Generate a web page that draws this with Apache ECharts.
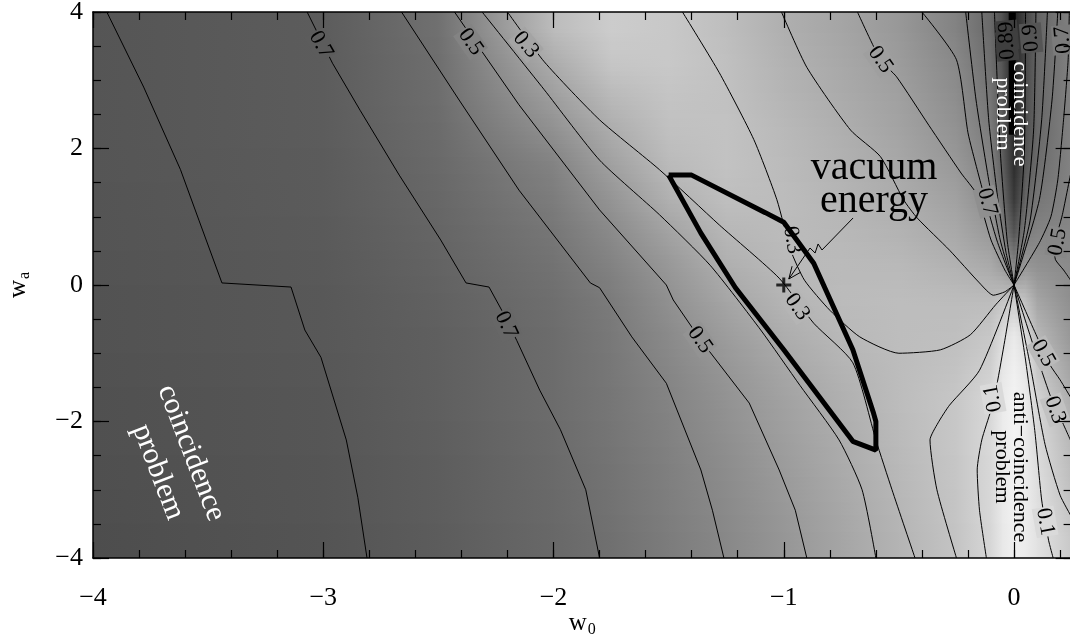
<!DOCTYPE html>
<html><head><meta charset="utf-8">
<script src="https://cdn.jsdelivr.net/npm/echarts@6/dist/echarts.min.js"></script>
<style>html,body{margin:0;padding:0;background:#fff}#c{width:1070px;height:637px}</style>
</head><body><div id="c"></div>
<script>
// ---------- DATA ----------
const xTickLabels = [-4, -3, -2, -1, 0];
const yTickLabels = [-4, -2, 0, 2, 4];

// background shading: gray level read at nodes (columns bgX) for rows centred at bgY
const bgX = [-4, -3, -2.5, -2, -1.75, -1.5, -1.25, -1, -0.75, -0.5, -0.25, -0.1, -0.05, 0, 0.05, 0.1, 0.25];
const bgY = [3.75, 3.25, 2.75, 2.25, 1.75, 1.25, 0.75, 0.25, -0.25, -0.75, -1.25, -1.75, -2.25, -2.75, -3.25, -3.75];
const bgGray = [
  [85,92,112,188,204,200,190,175,165,152,130,105,80,35,70,100,130],
  [85,92,110,172,198,200,192,178,168,156,136,110,84,36,72,102,130],
  [85,92,109,158,185,196,193,181,171,160,141,116,87,38,75,103,130],
  [85,92,107,144,172,192,194,185,175,163,146,122,90,40,78,104,130],
  [85,91,105,130,160,186,194,187,178,168,152,130,96,44,86,108,131],
  [84,91,103,124,148,176,190,188,181,173,160,140,108,55,102,118,132],
  [84,90,101,118,137,162,182,187,184,179,168,153,128,85,125,132,134],
  [83,89,99,114,129,151,174,185,186,185,178,170,158,138,152,146,138],
  [82,88,97,110,123,144,165,180,187,189,188,188,196,205,192,166,142],
  [82,88,95,108,120,138,156,172,184,189,191,199,220,234,218,184,150],
  [81,87,95,108,119,134,150,166,179,188,195,208,230,240,230,200,162],
  [80,86,95,108,118,131,146,161,175,188,199,216,235,243,236,213,174],
  [80,86,94,107,117,129,143,158,172,186,199,217,235,243,236,218,182],
  [79,85,93,106,115,127,140,155,170,184,198,216,234,242,236,221,188],
  [78,85,93,105,114,126,138,152,167,182,197,216,233,241,236,224,194],
  [77,84,92,104,112,124,136,150,165,180,196,215,232,240,236,226,200]
];

// contour lines (w0, wa)
const cL1 = [[-3.94,4],[-3.78,2.9],[-3.62,1.69],[-3.54,0.95],[-3.44,0.03],[-3.14,-0.03],[-3.08,-0.66],[-3.01,-1.06],[-2.90,-2.27],[-2.85,-3.11],[-2.81,-4]];
const cL2 = [[-3.07,4],[-2.96,3.25],[-2.84,2.56],[-2.67,1.61],[-2.49,0.66],[-2.38,0.03],[-2.28,-0.03],[-2.22,-0.40],[-2.16,-0.81],[-2.06,-1.54],[-1.97,-2.12],[-1.86,-3.0],[-1.80,-4]];
const cL3 = [[-2.66,4],[-2.41,2.71],[-2.15,1.39],[-1.84,0.03],[-1.80,-0.04],[-1.66,-0.76],[-1.51,-1.44],[-1.36,-2.71],[-1.31,-3.3],[-1.26,-4]];
const cL4 = [[-2.43,4],[-2.15,2.64],[-1.80,1.10],[-1.51,0],[-1.48,-0.22],[-1.36,-0.81],[-1.15,-1.73],[-1.02,-2.71],[-0.95,-3.3],[-0.90,-4]];
const cL5 = [[-2.31,4],[-2.04,2.86],[-1.80,1.83],[-1.54,1.03],[-1.32,0.29],[-1.10,-0.66],[-0.93,-1.47],[-0.76,-2.27],[-0.66,-3.0],[-0.60,-4]];
const cL6 = [[-2.20,4],[-2.04,3.27],[-1.80,2.42],[-1.54,1.69],[-1.28,0.88],[-1.02,0.10],[-0.87,-0.56],[-0.70,-1.14],[-0.60,-2.27],[-0.53,-3.0],[-0.43,-4]];
const cU  = [[-1.44,4],[-1.28,3.11],[-1.13,2.13],[-1.03,1.25],[-0.97,0.51],[-0.91,0.07],[-0.80,-0.37],[-0.67,-0.76],[-0.50,-1.0],[-0.32,-0.95],[-0.19,-0.73],[-0.08,-0.29],[0,0]];
const cM4 = [[-1.01,4],[-0.90,3.19],[-0.71,2.27],[-0.58,1.88],[-0.48,1.25],[-0.42,0.98],[-0.28,0.51],[-0.15,0.03],[-0.09,-0.15],[-0.04,-0.10],[0,0]];
const cM5 = [[-0.68,4],[-0.58,3.30],[-0.51,3.05],[-0.37,2.34],[-0.23,1.64],[-0.16,1.32],[-0.10,0.66],[-0.04,0.22],[0,0]];
const cM7 = [[-0.40,4],[-0.25,3.3],[-0.20,2.23],[-0.16,1.69],[-0.125,1.25],[-0.075,0.66],[-0.035,0.29],[0,0]];
const cW1 = [[-0.21,4],[-0.165,2.71],[-0.11,1.54],[-0.06,0.66],[-0.02,0.19],[0,0]];
const cW2 = [[-0.14,4],[-0.11,2.42],[-0.07,1.25],[-0.035,0.48],[0,0]];
const cW3 = [[-0.085,4],[-0.06,1.98],[-0.03,0.66],[0,0]];
const cW4 = [[0.05,4],[0.045,1.98],[0.02,0.66],[0,0]];
const cW5 = [[0.095,4],[0.085,2.27],[0.045,0.81],[0,0]];
const cW6 = [[0.145,4],[0.12,2.42],[0.07,0.95],[0,0]];
const cW7 = [[0.19,4],[0.165,2.71],[0.11,1.25],[0,0]];
const cR1 = [[0.25,1.7],[0.21,1.03],[0.175,0.54],[0.18,0.37],[0.215,0.22],[0.25,0.05]];
const cR2 = [[0,0],[0.11,0.62],[0.16,1.0],[0.19,1.54],[0.215,2.42],[0.235,3.3],[0.24,4]];
const cB1 = [[0,0],[-0.15,-1.25],[-0.28,-1.76],[-0.33,-2.02],[-0.365,-2.27],[-0.335,-3.0],[-0.25,-4]];
const cB2 = [[0,0],[-0.04,-0.81],[-0.075,-1.47],[-0.10,-1.83],[-0.14,-2.27],[-0.16,-2.71],[-0.15,-3.3],[-0.12,-4]];
const cB3 = [[0,0],[0.05,-1.10],[0.09,-2.13],[0.12,-3.15],[0.15,-3.74],[0.17,-4]];
const cB4 = [[0,0],[0.09,-0.95],[0.156,-1.61],[0.19,-1.86],[0.25,-2.31]];
const cB5 = [[0,0],[0.10,-0.76],[0.156,-1.17],[0.20,-1.39],[0.25,-1.67]];
const cB6 = [[0,0],[0.07,-1.17],[0.135,-2.34],[0.2,-3.08],[0.25,-3.40]];
const thickBand = [[-0.008,4],[-0.008,2.2]];

// vacuum-energy region outline and model point
const regionOutline = [[-1.5,1.61],[-1.4,1.61],[-1.08,1.06],[-1.0,0.92],[-0.87,0.32],[-0.70,-0.95],[-0.61,-1.88],[-0.60,-2.0],[-0.60,-2.42],[-0.70,-2.29],[-1.0,-0.95],[-1.21,-0.04],[-1.36,0.76],[-1.5,1.61]];
const vacuumPoint = [[-1, 0]];
const arrowPath = [[-0.699,0.982],[-0.834,0.513],[-0.851,0.601],[-0.864,0.469],[-0.886,0.542],[-0.978,0.088]];
const arrowHead = [[-0.927,0.186],[-0.978,0.088],[-0.964,0.275]];

// contour labels
const lblText = ['0.7','0.5','0.3','0.5','0.7','0.9','0.7','0.5','0.3','0.3','0.7','0.5','0.5','0.3','0.1','0.1','0.9','0.8'];
const lblX    = [-3.01,-2.36,-2.12,-0.58,-0.117,0.074,0.213,0.19,-0.964,-0.942,-2.206,-1.364,0.126,0.178,0.135,-0.091,-0.03,-0.03];
const lblY    = [3.52,3.56,3.52,3.30,1.22,3.62,3.59,0.63,0.66,-0.32,-0.586,-0.806,-1.0,-1.83,-3.47,-1.66,3.66,3.50];
const lblRot  = [-60,-55,-50,-55,-75,95,95,80,-80,-55,-65,-55,-60,-70,-80,100,95,95];

// ---------- CHART ----------
const FONT = 'Liberation Serif';
const chart = echarts.init(document.getElementById('c'));
const gray = v => { const g = Math.round(v); return 'rgb(' + g + ',' + g + ',' + g + ')'; };
const fmt = v => {
  const r = Math.round(v);
  if (Math.abs(v - r) > 1e-9) return '';
  return r < 0 ? '\u2212' + Math.abs(r) : String(r);
};

// shade at a position (for label backgrounds), from the read grid
function shadeAt(x, y) {
  let r = (bgY[0] - y) / 0.5; r = Math.max(0, Math.min(bgY.length - 1, r));
  const j0 = Math.floor(r), j1 = Math.min(j0 + 1, bgY.length - 1), t = r - j0;
  let i = 0; while (i < bgX.length - 2 && x > bgX[i + 1]) i++;
  const u = Math.max(0, Math.min(1, (x - bgX[i]) / (bgX[i + 1] - bgX[i])));
  const a = bgGray[j0][i] * (1 - u) + bgGray[j0][i + 1] * u;
  const b = bgGray[j1][i] * (1 - u) + bgGray[j1][i + 1] * u;
  return a * (1 - t) + b * t;
}

const bgData = [];
for (let j = 0; j < bgY.length; j++) for (let i = 0; i < bgX.length - 1; i++) bgData.push([bgX[i], bgY[j], i, j]);

const NS = 8;
function renderBg(params, api) {
  const i = api.value(2), j = api.value(3);
  const children = [];
  for (let s = 0; s < NS; s++) {
    const f0 = s / NS, f1 = (s + 1) / NS;
    const p0 = api.coord([bgX[i], bgY[j] + 0.25 - 0.5 * f0]);
    const p1 = api.coord([bgX[i + 1], bgY[j] + 0.25 - 0.5 * f1]);
    const mid = (f0 + f1) / 2 - 0.5;
    const jn = mid < 0 ? Math.max(j - 1, 0) : Math.min(j + 1, bgY.length - 1);
    const w = Math.abs(mid);
    const c0 = (1 - w) * bgGray[j][i] + w * bgGray[jn][i];
    const c1 = (1 - w) * bgGray[j][i + 1] + w * bgGray[jn][i + 1];
    children.push({
      type: 'rect',
      shape: { x: p0[0] - 0.3, y: p0[1] - 0.3, width: p1[0] - p0[0] + 0.9, height: p1[1] - p0[1] + 0.9 },
      style: { fill: new echarts.graphic.LinearGradient(0, 0, 1, 0, [
        { offset: 0, color: gray(c0) }, { offset: 1, color: gray(c1) }]) }
    });
  }
  return { type: 'group', children };
}

const contourSets = [cL5,cL6,cU,cM4,cM5,cM7,cW1,cW2,cW3,cW4,cW5,cW6,cW7,cR1,cR2,cB1,cB2,cB3,cB4,cB5,cB6];
const kinkedSets = [cL1,cL2,cL3,cL4];
const line = (data, w, smooth) => ({
  type: 'line', data, xAxisIndex: 0, yAxisIndex: 0, symbol: 'none', showSymbol: false,
  smooth: smooth, lineStyle: { color: '#000', width: w }, silent: true, z: 3, clip: true
});

const series = [{ type: 'custom', data: bgData, renderItem: renderBg, xAxisIndex: 0, yAxisIndex: 0, clip: true, silent: true, z: 1 }];
kinkedSets.forEach(c => series.push(line(c, 1, false)));
contourSets.forEach(c => series.push(line(c, 1, 0.2)));
series.push(line(thickBand, 7, false));
series.push(Object.assign(line(regionOutline, 5, false), { z: 5 }));
series.push(Object.assign(line(arrowPath, 1, false), { z: 6 }));
series.push(Object.assign(line(arrowHead, 1, false), { z: 6 }));
series.push({ type: 'scatter', data: vacuumPoint, symbol: 'path://M0,6L12,6M6,0L6,12', symbolSize: 15,
  itemStyle: { color: 'rgba(0,0,0,0)', borderColor: '#000', borderWidth: 3 }, z: 6, silent: true });

const axCommon = { type: 'value', min: -4, max: 0.25, splitLine: { show: false }, z: 10 };
const yCommon = { type: 'value', min: -4, max: 4, splitLine: { show: false }, z: 10 };
const tick = (len) => ({ show: true, inside: true, length: len, lineStyle: { color: '#000', width: 1.2 } });
const axLine = { show: true, onZero: false, lineStyle: { color: '#000', width: 1.5 } };
const noLine = { show: false, onZero: false };
const nameStyle = { fontFamily: FONT, fontSize: 25, color: '#000', rich: { s: { fontFamily: FONT, fontSize: 16, color: '#000', verticalAlign: 'bottom', padding: [14, 0, 0, 1] } } };

chart.setOption({
  animation: false,
  backgroundColor: '#fff',
  grid: { left: 93, top: 12, width: 978.6, height: 546, outerBoundsMode: 'none' },
  xAxis: [
    Object.assign({}, axCommon, { position: 'bottom', interval: 1, axisLine: axLine, axisTick: tick(16),
      axisLabel: { formatter: fmt, fontFamily: FONT, fontSize: 26, color: '#000', margin: 27 },
      name: 'w{s|0}', nameLocation: 'middle', nameGap: 50, nameMoveOverlap: false, nameTextStyle: nameStyle }),
    Object.assign({}, axCommon, { position: 'bottom', interval: 0.2, axisLine: noLine, axisTick: tick(8), axisLabel: { show: false } }),
    Object.assign({}, axCommon, { position: 'top', interval: 1, axisLine: axLine, axisTick: tick(16), axisLabel: { show: false } }),
    Object.assign({}, axCommon, { position: 'top', interval: 0.2, axisLine: noLine, axisTick: tick(8), axisLabel: { show: false } })
  ],
  yAxis: [
    Object.assign({}, yCommon, { position: 'left', interval: 2, axisLine: axLine, axisTick: tick(16),
      axisLabel: { formatter: fmt, fontFamily: FONT, fontSize: 26, color: '#000', margin: 10 },
      name: 'w{s|a}', nameLocation: 'middle', nameGap: 60, nameMoveOverlap: false, nameTextStyle: nameStyle }),
    Object.assign({}, yCommon, { position: 'left', interval: 0.5, axisLine: noLine, axisTick: tick(8), axisLabel: { show: false } }),
    Object.assign({}, yCommon, { position: 'right', interval: 2, axisLine: axLine, axisTick: tick(16), axisLabel: { show: false } }),
    Object.assign({}, yCommon, { position: 'right', interval: 0.5, axisLine: noLine, axisTick: tick(8), axisLabel: { show: false } })
  ],
  series
});

// annotations placed through the axes' own scales
const P = (x, y) => chart.convertToPixel({ xAxisIndex: 0, yAxisIndex: 0 }, [x, y]);
const g = [];
function T(str, x, y, rot, size, color, bg, z) {
  const p = P(x, y);
  const style = { text: str, fontFamily: FONT, fontSize: size, fill: color, align: 'center', verticalAlign: 'middle' };
  if (bg) { style.backgroundColor = bg; style.padding = [0, 1]; }
  g.push({ type: 'text', x: p[0], y: p[1], rotation: rot * Math.PI / 180, z: z || 100, silent: true, style });
}
for (let k = 0; k < lblText.length; k++) T(lblText[k], lblX[k], lblY[k], lblRot[k], 22, '#000', gray(shadeAt(lblX[k], lblY[k])), 4);
T('vacuum', -0.608, 1.71, 0, 40, '#000');
T('energy', -0.608, 1.23, 0, 40, '#000');
T('coincidence', -3.574, -2.462, -69, 30, '#fff');
T('problem', -3.718, -2.74, -69, 30, '#fff');
T('coincidence', 0.026, 2.505, -90, 22, '#fff');
T('problem', -0.048, 2.505, -90, 22, '#fff');
T('anti\u2212coincidence', 0.026, -2.667, -90, 22, '#000');
T('problem', -0.052, -2.667, -90, 22, '#000');
chart.setOption({ graphic: g });
</script>
</body></html>
